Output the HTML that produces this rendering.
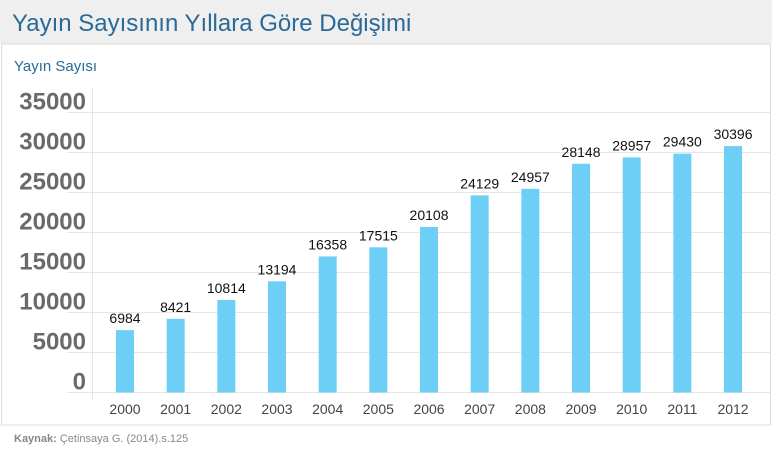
<!DOCTYPE html>
<html><head><meta charset="utf-8"><style>
body{margin:0;width:772px;height:455px;background:#fff;overflow:hidden;font-family:"Liberation Sans",sans-serif}
</style></head><body>
<svg id="chart" width="772" height="455" xmlns="http://www.w3.org/2000/svg">
<rect x="0" y="0" width="772" height="44" fill="#efefef"/>
<text x="12" y="31" font-size="24" fill="#2a6a96" font-family="Liberation Sans, sans-serif">Yayın Sayısının Yıllara Göre Değişimi</text>
<rect x="1.5" y="44" width="769" height="381" fill="#fff" stroke="#dcdcdc"/>
<text x="14" y="71" font-size="15" fill="#2a6a96">Yayın Sayısı</text>
<g id="grid"></g><g id="bars"></g>
<text x="14" y="442" font-size="11" fill="#888"><tspan font-weight="bold">Kaynak:</tspan> Çetinsaya G. (2014).s.125</text>
</svg>
<script>
const categories=["2000","2001","2002","2003","2004","2005","2006","2007","2008","2009","2010","2011","2012"];
const values=[6984,8421,10814,13194,16358,17515,20108,24129,24957,28148,28957,29430,30396];
const yTicks=[0,5000,10000,15000,20000,25000,30000,35000];
const NS="http://www.w3.org/2000/svg";
const y0=392.5,yTop=112.5,yMax=35000;
function y(v){return y0-(v/yMax)*(y0-yTop);}
function yb(v){return 385-v*0.00786;}
function x(i){return 125+i*50.67;}
function mk(t,a,p){const e=document.createElementNS(NS,t);for(const k in a)e.setAttribute(k,a[k]);p.appendChild(e);return e;}
const g=document.getElementById('grid'),b=document.getElementById('bars');
yTicks.forEach(t=>{
 const l=mk('line',{x1:67,x2:771,y1:y(t),y2:y(t),stroke:'#e6e6e6','stroke-width':1},g);
 
 
 const tx=mk('text',{x:86,y:y(t)-3,'text-anchor':'end','font-size':24,'font-weight':'bold',fill:'#6a6a6a'},g);
 tx.textContent=t;
 
 
});
const ax=mk('line',{x1:92.5,x2:92.5,y1:88,y2:400,stroke:'#e6e6e6'},g);


categories.forEach((c,i)=>{
 const top=yb(values[i]);
 const r=mk('rect',{x:x(i)-9,y:top,width:18,height:y0-top,fill:'#6dcff6'},b);
 
 
 const v=mk('text',{x:x(i),y:top-7,'text-anchor':'middle','font-size':14,fill:'#111'},b);
 v.textContent=values[i];
 
 
 const xl=mk('text',{x:x(i),y:414,'text-anchor':'middle','font-size':14,fill:'#444'},b);
 xl.textContent=c;
 
 
});
</script>
</body></html>
